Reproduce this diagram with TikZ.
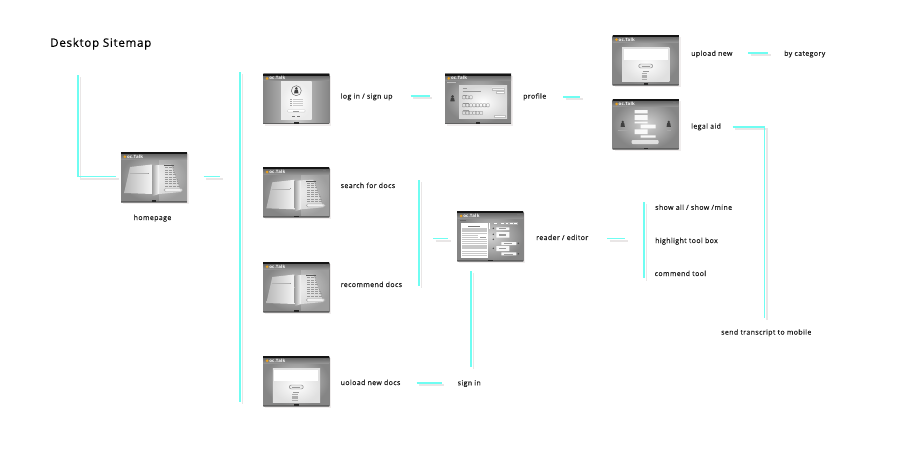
\documentclass[tikz,border=0pt]{standalone}
\usepackage{fontspec}
\setmainfont[LetterSpace=6,FakeBold=0.45]{Open Sans}
\newfontfamily\logofont[LetterSpace=5]{Open Sans Bold}
\usetikzlibrary{calc}
\definecolor{railcyan}{HTML}{6FFDF2}
\definecolor{railgrey}{HTML}{E9E6E6}
\definecolor{inktext}{HTML}{1E1E1E}
\definecolor{logodot}{HTML}{E8A020}
\tikzset{
  rail/.style={draw=railcyan,line width=1.7pt,line join=miter},
  railshade/.style={draw=railgrey,line width=1.5pt,transform canvas={xshift=2.6pt,yshift=-2.4pt}},
  caption/.style={anchor=base west,inner sep=0pt,text=inktext,font=\fontsize{6.95}{9}\selectfont},
  heading/.style={anchor=base west,inner sep=0pt,text=black,font=\fontsize{11.6}{14}\selectfont},
  screen/.style={minimum width=66pt,minimum height=50pt,inner sep=0pt,outer sep=0pt,anchor=north west},
  fine/.style={draw=#1,line width=.3pt},
  fine/.default=black!40,
}
% connector drawn with its soft offset shadow beneath
\newcommand{\railpath}[1]{\draw[railshade] #1; \draw[rail] #1;}
% common window frame: shadow, background, title band, logo and foot bar
\newcommand{\screenbox}[3]{%
  \fill[railgrey!70] (#2+2,#3+2) rectangle (#2+68,#3+52);
  \node[screen,shade,inner color=black!17,outer color=black!48] (#1) at (#2,#3) {};
}
\newcommand{\chrome}{%
  \shade[top color=black!62,bottom color=black!42] (0,1.5) rectangle (66,7);
  \fill[black!92] (0,0) rectangle (66,1.8);
  \fill[black!62] (0,48.9) rectangle (66,50);
  \fill[black!85] (30.8,48.2) rectangle (35.2,50);
  \fill[logodot] (3.8,4.7) circle (1.5);
  \node[inner sep=0pt,anchor=west,text=white,font=\logofont\fontsize{4.4}{5}\selectfont] at (5.8,4.6) {oc.Talk};
  \fill[black!55] (60,3) rectangle (63,3.8);
}
\newcommand{\person}[2]{%
  \fill[black!75] (#1,#2-2.3) circle (1.4);
  \fill[black!75] (#1-1.5,#2-1.2) -- (#1+1.5,#2-1.2) -- (#1+2.2,#2+2.6) -- (#1-2.2,#2+2.6) -- cycle;
}
% small blocks of text lines inside a window
\newcommand{\textlines}[4]{%
  \foreach \k in {1,...,#4} {\draw[fine] (#1,#2+\k*1.3) -- (#3,#2+\k*1.3);}
}
\newcommand{\bookfill}{%
  \fill[white,opacity=.2] (38,7) rectangle (66,48.7);
  \shade[left color=black!28,right color=black!4] (9,15) -- (31,12.5) -- (31.5,42) -- (3,41) -- cycle;
  \shade[left color=black!38,right color=white] (31,13.5) -- (38,13) -- (38,42) -- (31.5,44) -- cycle;
  \shade[left color=white,right color=white,opacity=.55] (38,13) -- (50,12.5) -- (60,40) -- (38,42) -- cycle;
  \draw[fine=black!30] (9,21.5) -- (27,21.5);
  \fill[black!40] (27,20.9) rectangle (28,22.1);
  \draw[black!65,line width=.35pt] (43,13.5) -- (53,13.5);
  \foreach \r in {0,...,8} {
    \draw[fine,dash pattern=on 3pt off .9pt] (44,15.5+\r*2.3) -- (52+\r*.9,15.5+\r*2.3);
  }
  \draw[black!35,fill=white,fill opacity=.6,line width=.45pt,rounded corners=1.5pt] (43,36.5) rectangle (62,39.5);
}
\newcommand{\uploadfill}{%
  \shade[inner color=white,outer color=black!12] (9.5,12) rectangle (56.7,46.7);
  \fill[white] (11,14) rectangle (55,25);
  \draw[black!50,fill=black!8,line width=.45pt,rounded corners=2pt] (26,29) rectangle (40,33);
  \draw[fine] (29,31) -- (37,31);
  \draw[fine] (30,36) -- (36,36);
  \foreach \k in {1,...,5} {\draw[fine=black!32] (29,37+\k*1.4) -- (34.5,37+\k*1.4);}
}
\begin{document}
\begin{tikzpicture}[x=1pt,y=-1pt]
\useasboundingbox (0,0) rectangle (900,450);
\fill[white] (0,0) rectangle (900,450);

\node[heading] (title) at (50,46.8) {Desktop Sitemap};

% ---- windows ----
\screenbox{home}{121}{152}
\begin{scope}[shift=(home.north west)] \bookfill \chrome \end{scope}

\screenbox{login}{263.3}{73.7}
\begin{scope}[shift=(login.north west)]
  \shade[left color=black!48,right color=black!48,middle color=black!20] (0,7) rectangle (66,48.7);
  \shade[inner color=white,outer color=black!8] (17.7,8) rectangle (48.3,46);
  \draw[black!60,line width=.45pt] (33,17) circle (5);
  \person{33}{17}
  \foreach \r in {0,...,3} {\fill[black!35] (27,25+\r*2) rectangle (29,25.7+\r*2);}
  \foreach \r in {0,...,3} {\draw[fine=black!20] (30,25.4+\r*2) -- (40,25.4+\r*2);}
  \fill[white,draw=black!22,line width=.3pt,rounded corners=1pt] (24,36) rectangle (42,38.4);
  \draw[fine] (30,37.2) -- (36,37.2);
  \draw[fine=black!55] (29,42.5) -- (32,42.5) (34,42.5) -- (37,42.5);
  \chrome
\end{scope}

\screenbox{profile}{445}{73.7}
\begin{scope}[shift=(profile.north west)]
  \draw[fine=black!25] (2,8.5) -- (11,8.5);
  \shade[inner color=white,outer color=black!15] (14,12) rectangle (62,45);
  \person{7.5}{25}
  \draw[fine] (17.5,14.5) -- (22,14.5) (17.5,17) -- (36,17);
  \fill[white,draw=black!25,line width=.3pt] (47,14) rectangle (59,16) (51,17.5) rectangle (59,19.5) (49,41.5) rectangle (60,43.5);
  \draw[fine] (17.5,21) -- (22,21) (17.5,29) -- (24,29) (17.5,36.6) -- (24,36.6);
  \foreach \c in {0,...,2} {\draw[black!50,line width=.35pt,rounded corners=.5pt] (17.5+\c*3.4,22) rectangle +(3,3.2);}
  \foreach \c in {0,...,7} {\draw[black!50,line width=.35pt,rounded corners=.5pt] (17.5+\c*3.4,30) rectangle +(3,3.2);}
  \foreach \c in {0,...,5} {\draw[black!50,line width=.35pt,rounded corners=.5pt] (17.5+\c*3.4,37.6) rectangle +(3,3.2);}
  \chrome
\end{scope}

\screenbox{search}{263.3}{167.3}
\begin{scope}[shift=(search.north west)] \bookfill \chrome \end{scope}

\screenbox{recommend}{263.3}{262}
\begin{scope}[shift=(recommend.north west)] \bookfill \chrome \end{scope}

\screenbox{upload}{263.3}{356}
\begin{scope}[shift=(upload.north west)] \uploadfill \chrome \end{scope}

\screenbox{uploadnew}{612.7}{35}
\begin{scope}[shift=(uploadnew.north west)] \uploadfill \chrome \end{scope}

\screenbox{legal}{612.7}{99.3}
\begin{scope}[shift=(legal.north west)]
  \fill[white,fill opacity=.92] (22,10.7) rectangle (35,14) (22,15.7) rectangle (35,20.7) (22,22.3) rectangle (35,24)
    (28,25.3) rectangle (43,29) (22,30) rectangle (35,34.7) (28,36) rectangle (43,38.3);
  \fill[white,fill opacity=.7,rounded corners=1pt] (19,40.7) rectangle (46,44.7);
  \person{10}{25}
  \person{56}{25}
  \draw[fine=black!35] (5,30.5) -- (15,30.5) (54,30.5) -- (58,30.5);
  \chrome
\end{scope}

\screenbox{reader}{457.3}{211.3}
\begin{scope}[shift=(reader.north west)]
  \fill[white] (3.3,11.3) rectangle (31,47);
  \draw[black!55,line width=.35pt] (11,14.5) -- (23,14.5);
  \foreach \r in {0,...,9} {\fill[black!22] (5,17+\r*2.1) rectangle (29.5,18.4+\r*2.1);}
  \fill[white] (21,24) rectangle (31,28);
  \draw[fine] (22.5,26) -- (29,26);
  \foreach \r in {0,...,2} {\fill[black!22] (5,39.5+\r*2.1) rectangle (29.5,40.9+\r*2.1);}
  \fill[white] (31.5,11.5) rectangle (33,18);
  \draw[fine=black!60] (3,9) -- (9,9);
  \foreach \c in {36,43,47.5,52,56} {\fill[white,draw=black!35,line width=.25pt] (\c,11) rectangle +(3.6,1.8);}
  \fill[white,fill opacity=.92] (39,16) rectangle (52,18.7) (39,20.7) rectangle (52,26.3) (44,30.7) rectangle (59,33.7)
    (39,34.7) rectangle (52,39.7) (44,41) rectangle (59,44);
  \draw[fine] (42,17.3) -- (49,17.3) (42,22.5) -- (49,22.5) (42,24.3) -- (49,24.3) (47,32.2) -- (55,32.2)
    (42,37) -- (49,37) (47,42.5) -- (56,42.5);
  \foreach \d/\e in {36/17,36/23,36/28,36/37,61/32,61/42.5} {\fill[black!70] (\d,\e) circle (.8);}
  \chrome
\end{scope}

% ---- labels ----
\node[caption] (lhome) at (133.5,220) {homepage};
\node[caption] (llogin) at (340.5,98.6) {log in / sign up};
\node[caption] (lprofile) at (523,98.6) {profile};
\node[caption] (luploadnew) at (691,55.8) {upload new};
\node[caption] (lcategory) at (784,55.8) {by category};
\node[caption] (llegal) at (691,128.6) {legal aid};
\node[caption] (lsearch) at (340.5,188) {search for docs};
\node[caption] (lrecommend) at (340.5,287) {recommend docs};
\node[caption] (lupload) at (340.5,385) {uoload new docs};
\node[caption] (lsignin) at (457.5,385.3) {sign in};
\node[caption] (lreader) at (536,240) {reader / editor};
\node[caption] (lshow) at (655,209.8) {show all / show /mine};
\node[caption] (lhighlight) at (655,243) {highlight tool box};
\node[caption] (lcommend) at (654.5,276) {commend tool};
\node[caption] (lsend) at (721,334.6) {send transcript to mobile};

% ---- connector end points ----
\coordinate (a1) at (78,75);      \coordinate (a2) at (78,176.4);   \coordinate (a3) at (116,176.4);
\coordinate (b1) at (203.5,176.6); \coordinate (b2) at (220,176.6);
\coordinate (c1) at (240,72);     \coordinate (c2) at (240,402);
\coordinate (d1) at (410.7,95.8); \coordinate (d2) at (429.5,95.8);
\coordinate (e1) at (563,96.8);   \coordinate (e2) at (580,96.8);
\coordinate (f1) at (748,52.8);   \coordinate (f2) at (768,52.8);
\coordinate (g1) at (732.7,126.8); \coordinate (g2) at (764.4,126.8); \coordinate (g3) at (764.4,318);
\coordinate (h1) at (419,180);    \coordinate (h2) at (419,285.7);
\coordinate (i1) at (433.3,238.4); \coordinate (i2) at (448,238.4);
\coordinate (j1) at (607.3,238.4); \coordinate (j2) at (625,238.4);
\coordinate (k1) at (644,202);    \coordinate (k2) at (644,278.3);
\coordinate (m1) at (471,271);    \coordinate (m2) at (471,366.7);
\coordinate (n1) at (416.7,382.8); \coordinate (n2) at (441.7,382.8);

% ---- connectors ----
\railpath{(a1) -- (a2) -- (a3)}
\railpath{(b1) -- (b2)}
\railpath{(c1) -- (c2)}
\railpath{(d1) -- (d2)}
\railpath{(e1) -- (e2)}
\railpath{(f1) -- (f2)}
\railpath{(g1) -- (g2) -- (g3)}
\railpath{(h1) -- (h2)}
\railpath{(i1) -- (i2)}
\railpath{(j1) -- (j2)}
\railpath{(k1) -- (k2)}
\railpath{(m1) -- (m2)}
\railpath{(n1) -- (n2)}
\end{tikzpicture}
\end{document}
